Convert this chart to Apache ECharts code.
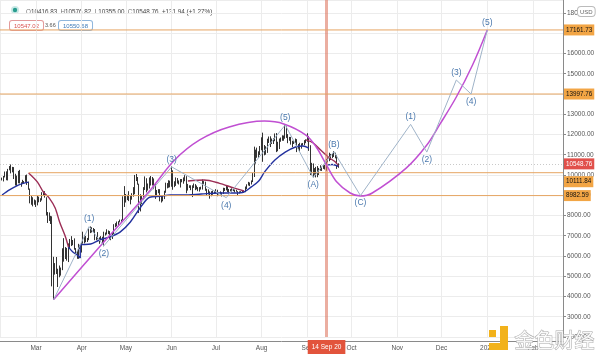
<!DOCTYPE html>
<html><head><meta charset="utf-8">
<script src="https://cdn.jsdelivr.net/npm/echarts@6/dist/echarts.min.js"></script>
<style>html,body{margin:0;padding:0;background:#fff}#c{width:600px;height:356px}</style>
</head><body><div id="c"></div>
<script>
// ---------- data ----------
const firstDay = '2020-02-07';
const opens = [
9760,9800,9900,10160,9860,10270,10360,10240,10370,9900,9930,9700,10180,9600,9610,9690,9670,9960,9660,9310,8780,8790,8690,
8540,8530,8910,8760,8760,9070,9160,8890,8030,7930,7890,7940,4830,5620,5170,5360,5020,5340,5410,6180,6200,6190,5830,6470,6750,6690,6750,6370,6250,5880,6400,
6420,6650,6800,6740,6870,6780,7340,7200,7370,7300,6870,6890,6910,6860,6880,6640,7120,7100,7260,7130,6850,6860,7130,7500,7540,7550,7700,7790,7770,8800,
8650,8860,8990,8900,8880,9030,9160,9990,9810,9540,8720,8570,8810,9310,9790,9310,9380,9670,9730,9780,9510,9060,9170,9180,8720,8900,8840,9200,9570,9430,9700,
9450,10200,9520,9660,9800,9620,9670,9750,9780,9780,9890,9270,9470,9470,9340,9430,9520,9460,9380,9300,9360,9290,9690,9630,9290,9250,9160,9000,9120,9190,
9140,9230,9090,9060,9130,9080,9340,9250,9430,9240,9290,9240,9300,9240,9250,9190,9130,9150,9170,9210,9160,9390,9530,9610,9550,9710,9930,11050,10930,11100,11110,
11340,11800,11070,11230,11190,11740,11760,11590,11750,11680,11880,11400,11580,11780,11770,11860,11910,12290,11970,11740,11860,11520,11680,11660,11760,11330,11470,11320,11540,11500,11710,
11650,11920,11400,10170,10470,10170,10260,10370,10130,10230,10340,10390,10440,10330,10680,10790,10950,10940,10930,11080,10920,10416.83];
const highs = [
9870,9950,10170,10180,10300,10440,10520,10400,10390,10060,9970,10200,10250,9640,9760,9700,9990,10020,9670,9330,8960,8900,8790,
8750,8970,8930,8850,9150,9180,9200,8900,8170,8150,7980,7960,5960,5650,5950,5370,5530,5430,6380,6880,6440,6400,6620,6840,6980,6790,6870,6390,6260,6600,6520,
6690,7200,7040,6990,6890,7360,7460,7420,7380,7330,6950,7180,6920,6980,6950,7200,7160,7320,7260,7230,6960,7160,7570,7620,7700,7720,7800,7800,8950,9450,
9060,9020,9200,8960,9100,9400,10000,10050,9900,9570,9050,8960,9400,9930,9840,9580,9880,9950,9900,9830,9560,9260,9300,9300,8980,9010,9220,9620,9600,9740,9720,
10420,10230,9690,9880,9850,9730,9800,9800,9880,9990,9940,9560,9490,9490,9490,9580,9550,9480,9400,9400,9420,9780,9700,9670,9320,9290,9190,9200,9230,9200,
9300,9270,9120,9190,9140,9370,9360,9460,9450,9310,9300,9340,9350,9280,9270,9200,9190,9200,9230,9220,9430,9540,9660,9630,9730,10100,11400,11250,11350,11170,11430,
11860,12090,11480,11420,11790,11900,11910,11800,11810,12050,12070,11640,11800,11850,11960,11950,12470,12400,12020,11880,11880,11690,11710,11800,11770,11530,11590,11560,11580,11720,11760,
12060,11930,11470,10600,10570,10340,10400,10440,10350,10480,10400,10480,10580,10790,10940,11100,11040,11040,11180,11100,10990,10576.82];
const lows = [
9730,9680,9880,9740,9730,10230,10080,10130,9800,9480,9460,9590,9580,9420,9580,9590,9660,9510,9270,8600,8530,8450,8530,
8420,8500,8650,8670,8740,9000,8880,8000,7630,7730,7580,4500,3850,5080,5110,4470,4950,5030,5300,5720,5850,5770,5700,6380,6490,6530,6310,6030,5860,5860,6350,
6170,6610,6620,6680,6690,6780,7130,7160,7160,6780,6780,6820,6600,6800,6620,6480,7010,7060,7080,6800,6780,6840,7070,7420,7460,7520,7660,7680,7760,8420,
8640,8760,8710,8550,8780,8930,9050,9700,9520,8120,8200,8570,8770,9260,9140,9230,9330,9480,9480,9300,8820,8940,9100,8700,8640,8700,8810,9120,9340,9370,9390,
9420,9270,9400,9460,9580,9530,9380,9640,9570,9690,9100,9230,9360,9250,8910,9360,9250,9290,9200,9180,9280,9280,9560,9220,9000,9040,8830,8950,9020,9080,
9100,8950,9040,9050,8940,9060,9210,9240,9160,9130,9190,9170,9200,9140,9170,9000,9090,9130,9110,9130,9150,9300,9480,9450,9530,9650,9900,10560,10850,10850,10980,
11220,10650,10970,11000,11090,11580,11380,11530,11530,11670,11130,11170,11280,11640,11690,11690,11790,11830,11570,11690,11500,11380,11530,11590,11130,11260,11150,11300,11450,11470,11570,
11640,11190,10000,9990,9880,10010,9880,9890,10000,10210,10200,10300,10270,10210,10630,10680,10740,10830,10890,10820,10300,10355];
const closes = [
9800,9900,10160,9860,10270,10360,10240,10370,9900,9930,9700,10180,9600,9610,9690,9670,9960,9660,9310,8780,8790,8690,8540,
8530,8910,8760,8760,9070,9160,8890,8030,7930,7890,7940,4830,5620,5170,5360,5020,5340,5410,6180,6200,6190,5830,6470,6750,6690,6750,6370,6250,5880,6400,6420,
6650,6800,6740,6870,6780,7340,7200,7370,7300,6870,6890,6910,6860,6880,6640,7120,7100,7260,7130,6850,6860,7130,7500,7540,7550,7700,7790,7770,8800,8650,
8860,8990,8900,8880,9030,9160,9990,9810,9540,8720,8570,8810,9310,9790,9310,9380,9670,9730,9780,9510,9060,9170,9180,8720,8900,8840,9200,9570,9430,9700,9450,
10200,9520,9660,9800,9620,9670,9750,9780,9780,9890,9270,9470,9470,9340,9430,9520,9460,9380,9300,9360,9290,9690,9630,9290,9250,9160,9000,9120,9190,9140,
9230,9090,9060,9130,9080,9340,9250,9430,9240,9290,9240,9300,9240,9250,9190,9130,9150,9170,9210,9160,9390,9530,9610,9550,9710,9930,11050,10930,11100,11110,11340,
11800,11070,11230,11190,11740,11760,11590,11750,11680,11880,11400,11580,11780,11770,11860,11910,12290,11970,11740,11860,11520,11680,11660,11760,11330,11470,11320,11540,11500,11710,11650,
11920,11400,10170,10470,10170,10260,10370,10130,10230,10340,10390,10440,10330,10680,10790,10950,10940,10930,11080,10920,10416.83,10548.76];

// indicator lines (blue / maroon segments)
const blueA = [['2020-02-07',9010],['2020-02-12',9260],['2020-02-18',9500],['2020-02-22',9600],['2020-02-25',9650]];
const redA  = [['2020-02-25',10100],['2020-03-02',9650],['2020-03-06',9160],['2020-03-10',8860],['2020-03-14',8370],['2020-03-17',7680],['2020-03-21',6940],['2020-03-23',6440]];
const blueB = [['2020-03-23',6440],['2020-03-26',6200],['2020-03-29',6050],['2020-03-31',5900],['2020-03-31',6540],['2020-04-07',6590],['2020-04-13',6790],['2020-04-20',6940],['2020-04-27',7180],['2020-05-04',7680],['2020-05-11',8420],['2020-05-17',8900],['2020-05-24',8950],['2020-05-31',9010],['2020-06-09',9010],['2020-06-21',9060],['2020-07-03',9110],['2020-07-14',9110],['2020-07-20',9160],['2020-07-25',9410],['2020-07-30',9700],['2020-08-03',10150],['2020-08-10',10740],['2020-08-17',11130],['2020-08-24',11380],['2020-08-29',11430],['2020-09-02',11330]];
const redB  = [['2020-06-12',9700],['2020-06-23',9750],['2020-07-03',9600],['2020-07-13',9360],['2020-07-20',9210]];
const redC  = [['2020-08-31',11730],['2020-09-05',11580],['2020-09-10',11230],['2020-09-16',10840],['2020-09-20',10640],['2020-09-22',10440]];
const blueC = [['2020-09-15',10500],['2020-09-18',10520],['2020-09-22',10420]];

// magenta projection curve
const arcDates  = ['2020-03-13','2020-04-13','2020-05-17','2020-06-03','2020-06-20','2020-07-10','2020-08-03','2020-08-16','2020-08-31','2020-09-07','2020-09-14','2020-09-21','2020-09-30','2020-10-07','2020-10-15','2020-11-07','2020-11-21','2020-11-30','2020-12-11','2020-12-22','2021-01-01'];
const arcValues = [3850,6440,9210,10740,11730,12370,12660,12520,11970,11380,10490,9650,9110,8960,9110,10340,11480,12520,13850,15430,17161.73];

// Elliott wave count
const waveDates  = ['2020-03-13','2020-04-06','2020-04-16','2020-06-01','2020-07-08','2020-08-17','2020-09-05','2020-09-19','2020-10-07','2020-11-10','2020-11-21','2020-12-11','2020-12-21','2021-01-01'];
const waveValues = [3850,7450,6500,10400,8880,12470,9880,11150,8982.59,12500,11130,14690,13997.76,17161.73];
const waveLabels = ['','(1)','(2)','(3)','(4)','(5)','(A)','(B)','(C)','(1)','(2)','(3)','(4)','(5)'];

// horizontal levels
const levelValues = [17161.73, 13997.76, 10111.84, 8982.59];
const levelStarts = [null, null, '2020-02-25', null];
const lastPrice = 10548.76;
const cursorDate = '2020-09-14';
const monthNames = ['2021','Feb','Mar','Apr','May','Jun','Jul','Aug','Sep','Oct','Nov','Dec'];

// ---------- build ----------
const T = s => Date.parse(s + 'T00:00:00Z');
const X_MIN = Date.UTC(2020,1,5,14,10), X_MAX = Date.UTC(2021,1,21,8,0);
const candles = closes.map((c,i) => [T(firstDay) + i*86400000, opens[i], c, lows[i], highs[i]]);
const seg = a => a.map(p => [T(p[0]), p[1]]);
const BLUE = '#23319e', RED = '#9b2d55';
const lvlColor = '#e6a562', lvlBg = '#f2a545';
const lab = (txt, bg, fg, extra) => Object.assign({show:true, position:'end', formatter:txt, backgroundColor:bg, color:fg, fontSize:6.3, padding:[3,2,2,2], distance:1, fontFamily:'Liberation Sans'}, extra||{});

// level lines as their own series, drawn above the candles
const levelSeries = levelValues.map((v,i) => ({
  type:'line', data:[[levelStarts[i] ? T(levelStarts[i]) : X_MIN, v],[X_MAX, v]], symbol:'none', silent:true, z:6,
  lineStyle:{color:lvlColor, width:1},
  endLabel:Object.assign({show:true, formatter:v.toFixed(2), backgroundColor:lvlBg, color:'#111', fontSize:6.3, padding:[3,2,2,2], distance:1, fontFamily:'Liberation Sans'}, i===2?{offset:[0,9]}:{})
}));

const markData = [];
markData.push({yAxis:lastPrice, lineStyle:{color:'#c9c9c9', type:[1,2], width:1}, label: lab(lastPrice.toFixed(2), '#e1504b', '#fff')});
markData.push({yAxis:lastPrice, lineStyle:{opacity:0}, label: lab('BTCUSD', '#e1504b', '#fff', {offset:[-26,0], fontSize:5.6})});
markData.push({yAxis:lastPrice, lineStyle:{opacity:0}, label: lab('01:58:24', '#e1504b', '#fff', {offset:[0,9]})});
markData.push({xAxis:T(cursorDate), lineStyle:{color:'rgba(222,120,98,0.6)', width:3, type:'solid'},
  label:{show:true, position:'start', formatter:'14 Sep 20', backgroundColor:'#e2543c', color:'#fff', fontSize:6.5, padding:[4,4,3,4], distance:3, fontFamily:'Liberation Sans'}});

const lineSeries = (data, color) => ({type:'line', data:seg(data), symbol:'none', smooth:0.3, lineStyle:{color, width:1.4}, silent:true, z:3});

const option = {
  animation:false, useUTC:true,
  grid:{left:0, right:37, top:0, bottom:19, containLabel:false},
  xAxis:{type:'time', min:X_MIN, max:X_MAX, offset:4, splitNumber:12, minInterval:28*86400000, maxInterval:31*86400000,
    axisLine:{show:true, onZero:false, lineStyle:{color:'#8a8a8a'}}, axisTick:{show:false},
    axisLabel:{color:'#555', fontSize:6.5, margin:4, fontFamily:'Liberation Sans', hideOverlap:false,
      formatter: v => { const d = new Date(v); if (d.getUTCDate()!==1 || d.getUTCHours()!==0) return ''; return d.getUTCMonth()===0 ? String(d.getUTCFullYear()) : monthNames[d.getUTCMonth()]; }},
    splitLine:{show:true, lineStyle:{color:'#ececec'}}},
  yAxis:{type:'value', position:'right', min:2000, max:18640, interval:1000, scale:false,
    axisLine:{show:true, lineStyle:{color:'#8a8a8a'}}, axisTick:{show:true, length:3, lineStyle:{color:'#8a8a8a'}},
    axisLabel:{color:'#555', fontSize:6.5, margin:4, fontFamily:'Liberation Sans', showMaxLabel:false,
      formatter: v => (v % 1000 === 0 ? v.toFixed(2) : '')},
    splitLine:{show:true, lineStyle:{color:'#ececec'}}},
  series:[
    {type:'candlestick', data:candles, encode:{x:0, y:[1,2,3,4]}, barWidth:1.3, z:2,
      itemStyle:{color:'#ffffff', color0:'#333', borderColor:'#333', borderColor0:'#333', borderWidth:1},
      markLine:{silent:true, symbol:['none','none'], animation:false, data:markData}},
    lineSeries(blueA, BLUE), lineSeries(redA, RED), lineSeries(blueB, BLUE),
    lineSeries(redB, RED), lineSeries(redC, RED), lineSeries(blueC, BLUE),
    ...levelSeries,
    {type:'line', data:arcDates.map((d,i)=>[T(d), arcValues[i]]), symbol:'none', smooth:0.35, lineStyle:{color:'#c04fd2', width:1.5}, silent:true, z:7},
    {type:'line', data:waveDates.map((d,i)=>({value:[T(d), waveValues[i]],
        label:{show: waveLabels[i] !== '', formatter: waveLabels[i],
          position: (i>0 && waveValues[i] > waveValues[i-1]) ? 'top' : 'bottom'}})),
      symbol:'circle', symbolSize:0.01, lineStyle:{color:'#9fb3c8', width:1}, silent:true, z:8,
      label:{color:'#4a78ad', fontSize:8.5, distance:3, fontFamily:'Liberation Sans'}}
  ],
  graphic:[
    {type:'circle', shape:{cx:15, cy:10, r:4}, style:{fill:'rgba(38,166,154,0.25)'}},
    {type:'circle', shape:{cx:15, cy:10, r:2.2}, style:{fill:'#2a9d8f'}},
    {type:'text', left:26, top:6, style:{text:'{l|O}{v|10416.83} {l|H}{v|10576.82} {l|L}{v|10355.00} {l|C}{v|10548.76} {v|+131.94 (+1.27%)}',
      rich:{l:{fill:'#777', fontSize:6.3, fontFamily:'Liberation Sans'}, v:{fill:'#444', fontSize:6.3, fontFamily:'Liberation Sans'}}}},
    {type:'text', left:9, top:20, style:{text:'10547.02', fill:'#d9534f', fontSize:6, fontFamily:'Liberation Sans', backgroundColor:'#fff', borderColor:'#e39a9a', borderWidth:1, borderRadius:2, padding:[2,4,1,4]}},
    {type:'text', left:45, top:22, style:{text:'3.66', fill:'#555', fontSize:5.5, fontFamily:'Liberation Sans'}},
    {type:'text', left:58, top:20, style:{text:'10550.68', fill:'#3d7ab8', fontSize:6, fontFamily:'Liberation Sans', backgroundColor:'#fff', borderColor:'#8fb6dc', borderWidth:1, borderRadius:2, padding:[2,4,1,4]}},
    {type:'text', left:577, top:6, z:100, style:{text:'USD', fill:'#666', fontSize:6, fontFamily:'Liberation Sans', backgroundColor:'#fff', borderColor:'#bbb', borderWidth:1, borderRadius:3, padding:[2,2,1,2]}},
    {type:'rect', shape:{x:489, y:330, width:7, height:7}, style:{fill:'#f2b21b'}, z:100},
    {type:'rect', shape:{x:500, y:326, width:8, height:24}, style:{fill:'#f2b21b'}, z:100},
    {type:'rect', shape:{x:489, y:343, width:19, height:7}, style:{fill:'#f2b21b'}, z:100},
    {type:'text', left:514, top:330, z:100, style:{text:'金色财经', fontSize:20, fontFamily:'Noto Sans CJK SC', fill:'rgba(255,255,255,0.9)', stroke:'#a9a9a9', lineWidth:1}}
  ]
};
const chart = echarts.init(document.getElementById('c'), null, {renderer:'canvas'});
chart.setOption(option);
</script></body></html>
